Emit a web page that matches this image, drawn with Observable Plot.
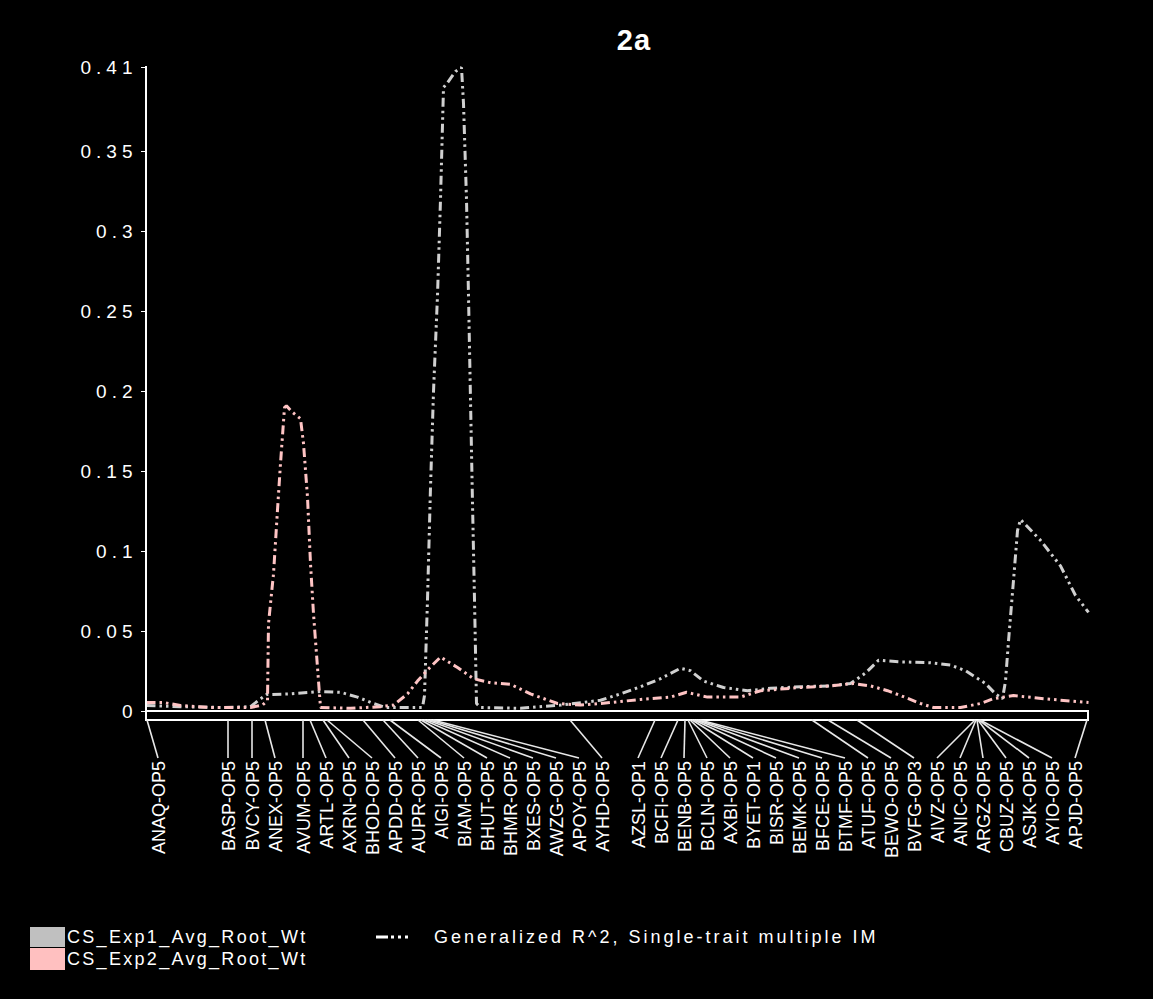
<!DOCTYPE html>
<html><head><meta charset="utf-8">
<script src="https://cdn.jsdelivr.net/npm/d3@7"></script>
<script src="https://cdn.jsdelivr.net/npm/@observablehq/plot@0.6"></script>
<style>
html,body{margin:0;padding:0;background:#000;}
#wrap{position:relative;width:1153px;height:999px;background:#000;overflow:hidden;font-family:"Liberation Sans",Arial,sans-serif;color:#fff}
#title{height:50px;position:relative}
#title span{position:absolute;left:634px;top:40px;transform:translate(-50%,-50%);font-weight:bold;font-size:29px;letter-spacing:1px}
.lg{position:absolute;font-size:18px;letter-spacing:2.3px;white-space:nowrap;line-height:20px}
.sw{position:absolute;width:35px}
</style></head><body>
<div id="wrap"><div id="title"><span></span></div><div id="chart"></div><div id="legend"></div></div>
<script>
// ---- data ----
const seriesNames = ["CS_Exp1_Avg_Root_Wt", "CS_Exp2_Avg_Root_Wt"];
const methodLabel = "Generalized R^2, Single-trait multiple IM";
const titleText = "2a";

const markerNames = ["ANAQ-OP5","BASP-OP5","BVCY-OP5","ANEX-OP5","AVUM-OP5","ARTL-OP5","AXRN-OP5","BHOD-OP5","APDD-OP5","AUPR-OP5","AIGI-OP5","BIAM-OP5","BHUT-OP5","BHMR-OP5","BXES-OP5","AWZG-OP5","APOY-OP5","AYHD-OP5","AZSL-OP1","BCFI-OP5","BENB-OP5","BCLN-OP5","AXBI-OP5","BYET-OP1","BISR-OP5","BEMK-OP5","BFCE-OP5","BTMF-OP5","ATUF-OP5","BEWO-OP5","BVFG-OP3","AIVZ-OP5","ANIC-OP5","ARGZ-OP5","CBUZ-OP5","ASJK-OP5","AYIO-OP5","APJD-OP5"];
const markerPos = [0.1, 8.2, 10.6, 11.9, 15.7, 16.4, 17.7, 18.1, 21.7, 23.7, 24.4, 27.2, 27.5, 27.8, 28.1, 28.4, 28.7, 42.4, 50.9, 53.2, 53.9, 54.2, 54.4, 54.6, 54.8, 55.0, 55.2, 55.4, 66.6, 68.2, 71.1, 82.9, 83.0, 83.1, 83.2, 83.3, 83.4, 94.1];

const exp1Pos = [0, 3.4, 7.4, 10.4, 11.2, 12.0, 14.4, 17.4, 19.4, 21.1, 22.7, 23.9, 26.9, 27.6, 27.8, 28.1, 28.4, 28.7, 29.1, 29.4, 29.7, 30.1, 30.9, 31.5, 31.7, 32.0, 32.2, 32.4, 32.6, 32.8, 33.0, 33.4, 37.4, 41.4, 45.4, 47.4, 49.4, 51.4, 53.4, 54.4, 55.7, 57.7, 60.1, 62.4, 65.4, 68.4, 70.4, 71.9, 73.2, 75.4, 78.4, 80.4, 81.9, 83.9, 84.9, 85.6, 85.9, 86.2, 86.7, 87.1, 87.4, 89.4, 91.4, 92.9, 94.2];
const exp1Val = [0.0038, 0.003, 0.0025, 0.003, 0.007, 0.0106, 0.011, 0.0125, 0.012, 0.009, 0.005, 0.0025, 0.0025, 0.0025, 0.01, 0.07, 0.14, 0.20, 0.26, 0.32, 0.39, 0.393, 0.400, 0.4025, 0.38, 0.32, 0.26, 0.195, 0.13, 0.07, 0.005, 0.0025, 0.002, 0.004, 0.007, 0.011, 0.0155, 0.0205, 0.027, 0.0255, 0.019, 0.015, 0.013, 0.0145, 0.0155, 0.016, 0.0175, 0.024, 0.032, 0.031, 0.0305, 0.029, 0.0255, 0.0175, 0.011, 0.008, 0.019, 0.044, 0.082, 0.113, 0.12, 0.107, 0.091, 0.0725, 0.062];

const exp2Pos = [0, 1.7, 3.4, 6.4, 10.4, 11.6, 12.1, 12.2, 12.7, 13.1, 13.4, 13.8, 14.0, 14.6, 15.4, 15.7, 16.1, 16.4, 16.7, 17.1, 17.4, 20.4, 23.4, 24.7, 26.1, 27.1, 28.1, 29.4, 31.1, 32.7, 34.4, 36.4, 38.4, 41.1, 43.4, 45.4, 49.4, 52.4, 54.0, 56.1, 59.4, 61.4, 65.4, 68.4, 70.7, 72.4, 74.1, 75.4, 77.4, 78.7, 81.4, 83.4, 84.7, 86.7, 89.7, 94.2];
const exp2Val = [0.0056, 0.0056, 0.0038, 0.0025, 0.0025, 0.004, 0.007, 0.055, 0.086, 0.126, 0.155, 0.19, 0.191, 0.187, 0.183, 0.1675, 0.134, 0.0925, 0.061, 0.0275, 0.0025, 0.002, 0.003, 0.004, 0.011, 0.019, 0.026, 0.034, 0.0275, 0.0205, 0.018, 0.017, 0.011, 0.005, 0.004, 0.005, 0.0075, 0.009, 0.012, 0.009, 0.009, 0.013, 0.015, 0.016, 0.0175, 0.016, 0.013, 0.010, 0.005, 0.0025, 0.0025, 0.005, 0.008, 0.010, 0.008, 0.0056];

const yTicks = [0, 0.05, 0.1, 0.15, 0.2, 0.25, 0.3, 0.35, 0.4025];
const yTickLabels = ["0", "0.05", "0.1", "0.15", "0.2", "0.25", "0.3", "0.35", "0.41"];

// ---- layout ----
const W = 1153, H = 850, mL = 146, mR = 65, mT = 17, mB = 189;
const xMax = 94.2, yMax = 0.4025;
const colors = ["#d0d0d0", "#ffc4c4"];
const dash = "9,4,2.5,4,2.5,4";
const BAND = 9, LINK = 38, LABEL_GAP = 2.3, LABEL_LO = 1.2, LABEL_HI = 92.9;

const rows = [
  ...exp1Pos.map((p, i) => ({series: seriesNames[0], pos: p, val: exp1Val[i]})),
  ...exp2Pos.map((p, i) => ({series: seriesNames[1], pos: p, val: exp2Val[i]}))
];

function spreadLabels(pos, gap, lo, hi) {
  const p = pos.map(v => Math.min(hi, Math.max(lo, v)));
  for (let i = 1; i < p.length; i++) p[i] = Math.max(p[i], p[i - 1] + gap);
  p[p.length - 1] = Math.min(p[p.length - 1], hi);
  for (let i = p.length - 2; i >= 0; i--) p[i] = Math.min(p[i], p[i + 1] - gap);
  return p;
}
const labelPos = spreadLabels(markerPos, LABEL_GAP, LABEL_LO, LABEL_HI);

function decorations(index, scales) {
  const x = scales.x, y = scales.y;
  const y0 = y(0), xa = x(0), xb = x(xMax);
  const g = d3.create("svg:g");
  g.append("line").attr("x1", xa).attr("x2", xa).attr("y1", y(yMax) - 1).attr("y2", y0 + BAND)
    .attr("stroke", "#fff").attr("stroke-width", 2);
  g.append("rect").attr("x", xa).attr("y", y0).attr("width", xb - xa).attr("height", BAND)
    .attr("fill", "none").attr("stroke", "#fff").attr("stroke-width", 2);
  g.append("g").attr("stroke", "#e8e8e8").attr("stroke-width", 1.6)
    .selectAll("line").data(markerNames).join("line")
    .attr("x1", (d, i) => x(markerPos[i])).attr("y1", y0 + BAND)
    .attr("x2", (d, i) => x(labelPos[i])).attr("y2", y0 + BAND + LINK);
  g.append("g").attr("fill", "#fff").attr("font-size", 18)
    .attr("font-family", "'Liberation Sans', Arial, sans-serif")
    .style("letter-spacing", "0px")
    .selectAll("text").data(markerNames).join("text")
    .attr("text-anchor", "end")
    .attr("transform", (d, i) => `translate(${x(labelPos[i]) + 6.5},${y0 + BAND + LINK + 3}) rotate(-90)`)
    .text(d => d);
  return g.node();
}

const chart = Plot.plot({
  width: W, height: H,
  marginLeft: mL, marginRight: mR, marginTop: mT, marginBottom: mB,
  style: {background: "#000", color: "#fff", fontFamily: "'Liberation Sans', Arial, sans-serif", fontSize: "19px", overflow: "visible"},
  x: {domain: [0, xMax], axis: null},
  y: {domain: [0, yMax], ticks: yTicks, tickFormat: d => yTickLabels[yTicks.indexOf(d)], tickSize: 5, tickPadding: 4, label: null, line: false},
  color: {domain: seriesNames, range: colors},
  marks: [
    Plot.line(rows, {x: "pos", y: "val", z: "series", stroke: "series", strokeWidth: 3, strokeDasharray: dash, strokeLinecap: "butt", strokeLinejoin: "miter"}),
    decorations
  ]
});
d3.select(chart).selectAll("g[aria-label='y-axis'] text, g[aria-label='y-axis tick label'] text").style("letter-spacing", "5px");
document.getElementById("chart").appendChild(chart);
document.querySelector("#title span").textContent = titleText;

// legend
const lg = document.getElementById("legend");
lg.innerHTML = `
<div class="sw" style="left:30px;top:927px;height:20px;background:#c0c0c0"></div>
<div class="sw" style="left:30px;top:948px;height:22px;background:#ffc0c0"></div>
<div class="lg" style="left:67px;top:927px">${seriesNames[0]}</div>
<div class="lg" style="left:67px;top:949px">${seriesNames[1]}</div>
<svg style="position:absolute;left:374px;top:932px" width="42" height="10"><line x1="2" x2="42" y1="5" y2="5" stroke="#fff" stroke-width="3" stroke-dasharray="12,3,3,4,3,4,3,20"/></svg>
<div class="lg" style="left:434px;top:927px;letter-spacing:3px">${methodLabel}</div>`;
</script>
</body></html>
